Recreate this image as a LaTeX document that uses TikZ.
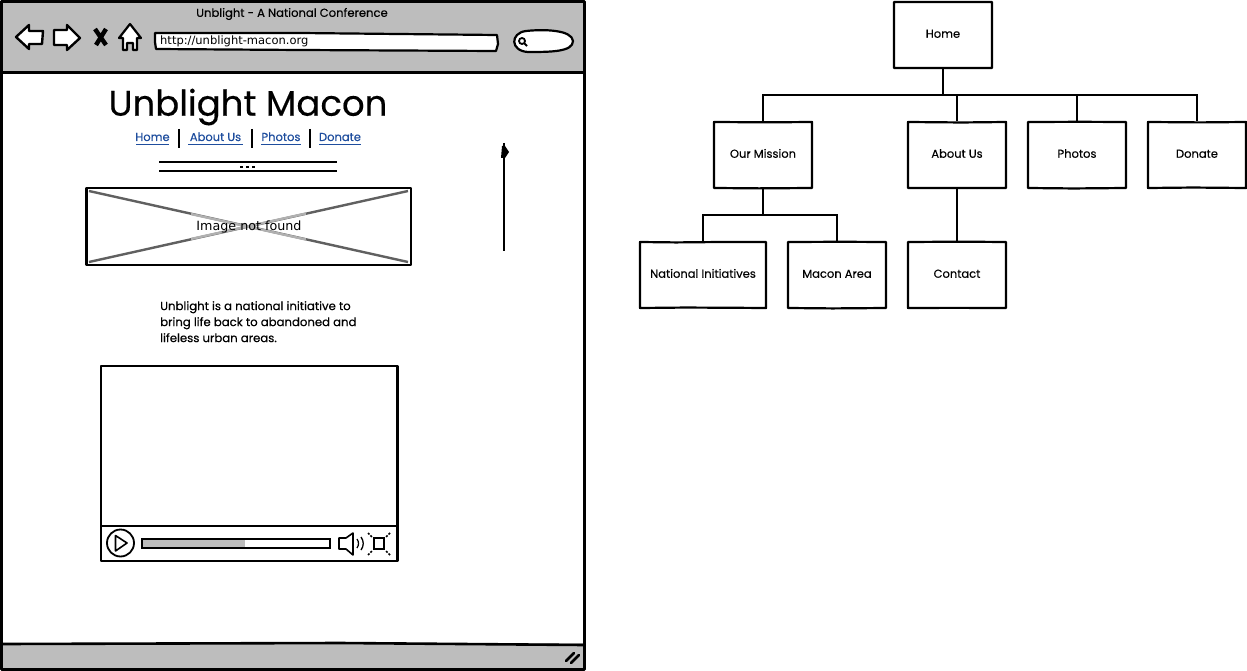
\documentclass[tikz,border=0pt]{standalone}
\usepackage{fontspec}
\setmainfont{Poppins}[RawFeature={embolden=0.35}]
\newfontfamily\djv{DejaVu Sans}
\usetikzlibrary{decorations.pathmorphing}
\definecolor{barg}{HTML}{BDBDBD}
\definecolor{linkb}{HTML}{1F4E9E}
\definecolor{xg}{HTML}{606060}
\definecolor{xl}{HTML}{B0B0B0}
\tikzset{
  x=1pt,y=-1pt,
  ink/.style={draw=black,line width=2.2pt,line join=round},
  wob/.style={decorate,decoration={random steps,segment length=45pt,amplitude=0.5pt}},
  pagebox/.style={ink,rectangle,inner sep=0pt,minimum width=98pt,minimum height=66pt,text height=8.5pt,text depth=3pt,font=\fontsize{11.5}{13}\selectfont,text=black,wob},
  wire/.style={draw=black,line width=2pt},
  link/.style={text=linkb,inner sep=0pt,font=\fontsize{11.5}{13}\selectfont},
  lbl/.style={inner sep=0pt,text=black}
}
\begin{document}
\begin{tikzpicture}
\useasboundingbox (0,0) rectangle (1247,671);
\fill[white] (0,0) rectangle (1247,671);
% browser window
\fill[barg] (2,2) rectangle (584,72);
\fill[barg] (2,643) rectangle (584,669);
\draw[ink,line width=3pt] (1.5,1.5) -- (584,1.5) -- (584,669) -- (1.5,669) -- cycle;
\draw[ink,line width=2.6pt] (2,72.5) -- (584,72.5);
\draw[ink,line width=2.6pt] (2,644) -- (340,643) -- (584,645);
\node[lbl,font=\fontsize{11.6}{13}\selectfont] (wintitle) at (292,14) {Unblight - A National Conference};
% toolbar
\draw[ink,line width=2.4pt,fill=white] (16,37) -- (29,25) -- (29,31) -- (43,31) -- (42,44) -- (29,44) -- (29,49) -- cycle;
\draw[ink,line width=2.4pt,fill=white] (54,30) -- (67,30) -- (67,25) -- (80,38) -- (67,50) -- (67,45) -- (54,45) -- cycle;
\draw[black,line width=4.4pt] (95,29) -- (106,45) (106,29) -- (96,45);
\draw[ink,fill=white] (130,24) -- (119,38) -- (123,38) -- (123,50) -- (127,50) -- (127,43) -- (133,43) -- (133,50) -- (137,50) -- (137,38) -- (141,38) -- cycle;
\draw[ink,fill=white] (155,33) -- (300,33) -- (497,35) -- (498,44) -- (496,51) -- (300,50) -- (156,49) -- (155,42) -- cycle;
\node[lbl,anchor=west,font=\djv\fontsize{11.5}{12}\selectfont] (urltext) at (160,41.5) {http://unblight-macon.org};
\draw[ink,fill=white] (526,31) .. controls (545,29) and (572,30) .. (573,41) .. controls (573,52) and (550,52) .. (528,52) .. controls (510,51) and (510,33) .. (526,31) -- cycle;
\draw[black,line width=1.8pt] (522,41) circle (3pt);
\draw[black,line width=2pt] (524,43) -- (527,46);
% title & nav
\node[lbl,font=\fontsize{35.5}{40}\selectfont] (pagetitle) at (248,107) {Unblight Macon};
\node[link,anchor=base] (navhome) at (152.5,141) {Home};
\node[link,anchor=base] (navabout) at (215.5,141) {About Us};
\node[link,anchor=base] (navphotos) at (281,141) {Photos};
\node[link,anchor=base] (navdonate) at (340,141) {Donate};
\draw[linkb,line width=1pt] (136,144.5) -- (169,144.5) (188,144.5) -- (243,144.5) (261,144.5) -- (301,144.5) (319,144.5) -- (361,144.5);
\draw[black,line width=2pt] (179,129) -- (179,148) (252,129) -- (252,148) (310,129) -- (310,148);
% collapsed menu
\draw[black,line width=2pt] (159,162.5) -- (337,162.5) (159,171.5) -- (337,171.5);
\draw[black,line width=1.8pt,dash pattern=on 3pt off 3pt] (240,167) -- (258,167);
% image placeholder
\draw[xg,line width=2.4pt] (89,191) -- (408,262) (89,262) -- (408,191);
\draw[xl,line width=2.4pt] (191,214) -- (306,239.5) (191,239) -- (306,213.5);
\draw[ink,line width=2.6pt] (86.5,188) rectangle (411,265);
\node[lbl,font=\djv\fontsize{12.7}{14}\selectfont] (imgtext) at (249,227) {Image not found};
% scroll line
\draw[black,line width=2pt] (504,143) -- (504,251);
\fill[black] (502,146) -- (505,146) -- (509,152) -- (505,158) -- (501,158) -- cycle;
% paragraph
\node[lbl,anchor=north west,align=left,font=\fontsize{11.7}{16}\selectfont] (para) at (160,301) {Unblight is a national initiative to\\bring life back to abandoned and\\lifeless urban areas.};
% video
\draw[ink] (101,366) rectangle (397.5,561);
\draw[ink] (101,526) -- (397,526);
\draw[black,line width=1.8pt] (120.5,543) circle (13.5pt);
\draw[black,line width=1.6pt,line join=round] (115.5,535.5) -- (127,543) -- (115.5,551) -- cycle;
\fill[barg] (142,539) rectangle (245,548);
\draw[black,line width=1.6pt] (142,539) rectangle (330,548);
\draw[black,line width=1.6pt,line join=round] (339,538) -- (346,538) -- (353,533) -- (353,555) -- (346,549) -- (339,549) -- cycle;
\draw[black,line width=1.3pt] (357,539) .. controls (359,542) and (359,545) .. (357,548);
\draw[black,line width=1.3pt] (361,537) .. controls (364,541) and (364,546) .. (361,550);
\draw[black,line width=1.5pt] (374,538) rectangle (384,549);
\draw[black,line width=1.6pt,dash pattern=on 2pt off 1.5pt] (368,533) -- (372,537) (390,533) -- (386,537) (368,555) -- (372,551) (390,555) -- (386,551);
% resize grip
\draw[black,line width=2.6pt,line cap=round] (566,661) -- (574,653) (571,663) -- (579,655);
% site map
\node[pagebox] (home) at (943,35) {Home};
\node[pagebox] (mission) at (763,155) {Our Mission};
\node[pagebox] (about) at (957,155) {About Us};
\node[pagebox] (photos) at (1077,155) {Photos};
\node[pagebox] (donate) at (1197,155) {Donate};
\node[pagebox,minimum width=126pt] (national) at (703,275) {National Initiatives};
\node[pagebox] (macon) at (837,275) {Macon Area};
\node[pagebox] (contact) at (957,275) {Contact};
\coordinate (hub) at (943,95);
\coordinate (subhub) at (763,215);
\draw[wire] (home.south) -- (hub);
\draw[wire] (hub) -| (mission.north);
\draw[wire] (hub) -| (about.north);
\draw[wire] (hub) -| (photos.north);
\draw[wire] (hub) -| (donate.north);
\draw[wire] (mission.south) -- (subhub);
\draw[wire] (subhub) -| (national.north);
\draw[wire] (subhub) -| (macon.north);
\draw[wire] (about.south) -- (contact.north);
\end{tikzpicture}
\end{document}
